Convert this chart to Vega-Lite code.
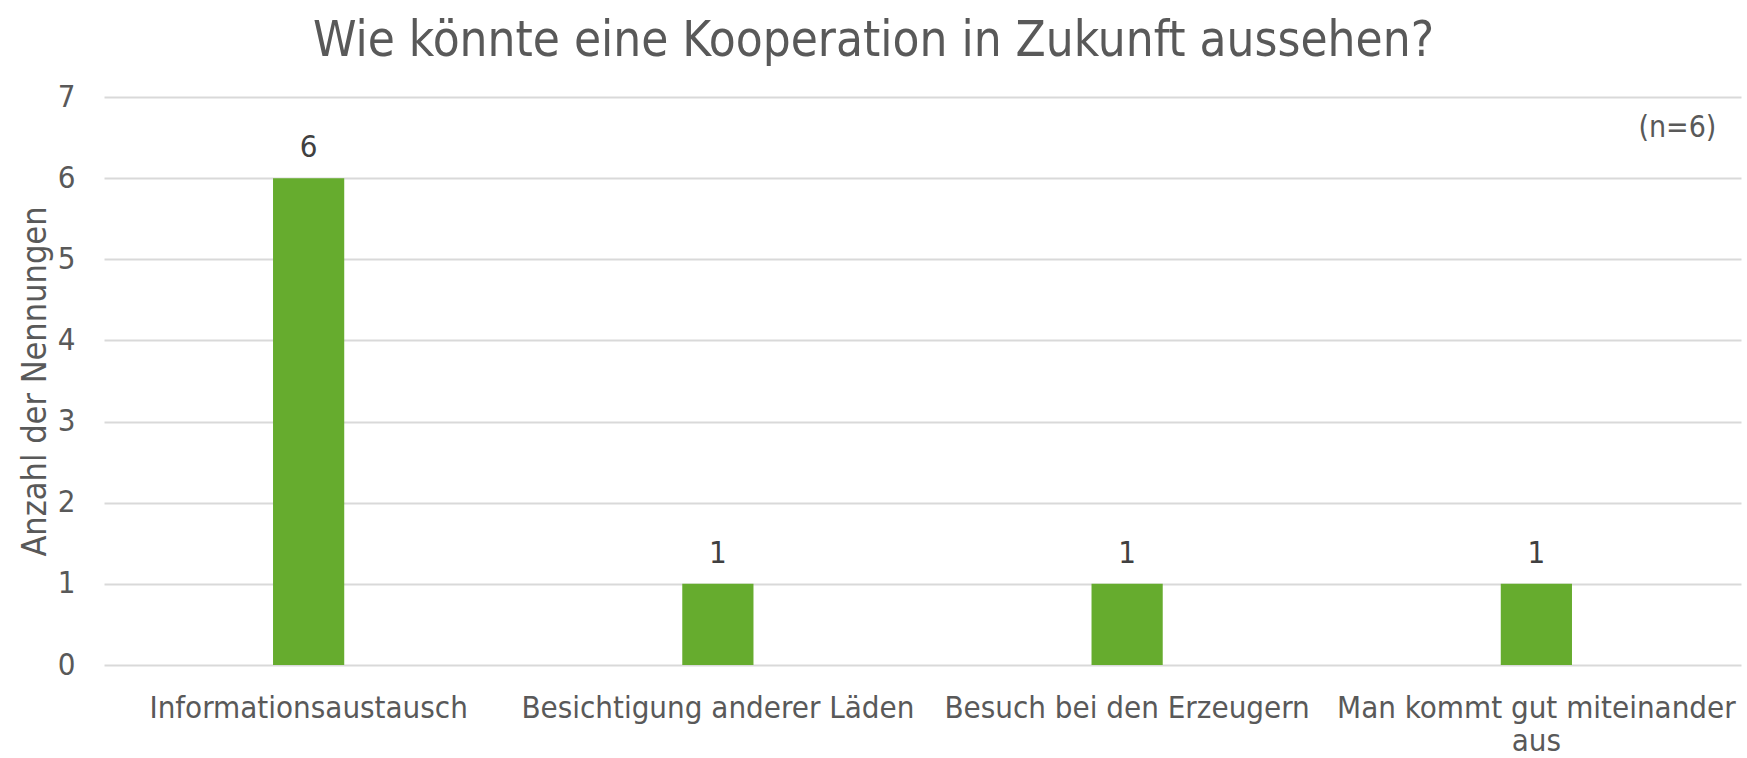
{
  "$schema": "https://vega.github.io/schema/vega-lite/v6.json",
  "width": 1637,
  "height": 568,
  "autosize": {"type": "none"},
  "padding": {"left": 104, "top": 97, "right": 6, "bottom": 93},
  "background": "white",
  "title": {
    "text": "Wie könnte eine Kooperation in Zukunft aussehen?",
    "font": "DejaVu Sans Condensed",
    "fontSize": 49,
    "fontWeight": "normal",
    "color": "#595959",
    "anchor": "middle",
    "dx": -49,
    "offset": 15
  },
  "config": {
    "view": {"stroke": null},
    "font": "DejaVu Sans Condensed"
  },
  "data": {
    "values": [
      {"kategorie": "Informationsaustausch", "anzahl": 6},
      {"kategorie": "Besichtigung anderer Läden", "anzahl": 1},
      {"kategorie": "Besuch bei den Erzeugern", "anzahl": 1},
      {"kategorie": "Man kommt gut miteinander aus", "anzahl": 1}
    ]
  },
  "encoding": {
    "x": {
      "field": "kategorie",
      "type": "nominal",
      "sort": null,
      "scale": {"paddingInner": 0, "paddingOuter": 0},
      "axis": {
        "title": null,
        "labelAngle": 0,
        "labelFont": "DejaVu Sans Condensed",
        "labelFontSize": 31,
        "labelColor": "#595959",
        "labelPadding": 28,
        "labelLineHeight": 33,
        "labelLimit": 600,
        "labelExpr": "datum.label == 'Man kommt gut miteinander aus' ? ['Man kommt gut miteinander', 'aus'] : datum.label",
        "ticks": false,
        "domain": false,
        "grid": false
      }
    },
    "y": {
      "field": "anzahl",
      "type": "quantitative",
      "scale": {"domain": [0, 7], "nice": false},
      "axis": {
        "title": "Anzahl der Nennungen",
        "titleFont": "DejaVu Sans Condensed",
        "titleFontSize": 34,
        "titleFontWeight": "normal",
        "titleColor": "#595959",
        "titlePadding": 5,
        "values": [0, 1, 2, 3, 4, 5, 6, 7],
        "labelOverlap": false,
        "labelFont": "DejaVu Sans Condensed",
        "labelFontSize": 31,
        "labelColor": "#595959",
        "labelPadding": 29,
        "ticks": false,
        "domain": false,
        "gridColor": "#d9d9d9",
        "gridWidth": 2
      }
    }
  },
  "layer": [
    {
      "mark": {"type": "bar", "color": "#66ac2e", "width": {"band": 0.174}}
    },
    {
      "mark": {"type": "text", "font": "DejaVu Sans Condensed", "fontSize": 31, "color": "#404040", "dy": -30, "baseline": "middle"},
      "encoding": {"text": {"field": "anzahl", "type": "quantitative"}}
    },
    {
      "data": {"values": [{"kategorie": "Man kommt gut miteinander aus", "anzahl": 6.62, "hinweis": "(n=6)"}]},
      "mark": {"type": "text", "font": "DejaVu Sans Condensed", "fontSize": 30, "color": "#595959", "align": "right", "baseline": "middle", "dx": 180},
      "encoding": {"text": {"field": "hinweis"}}
    }
  ]
}
